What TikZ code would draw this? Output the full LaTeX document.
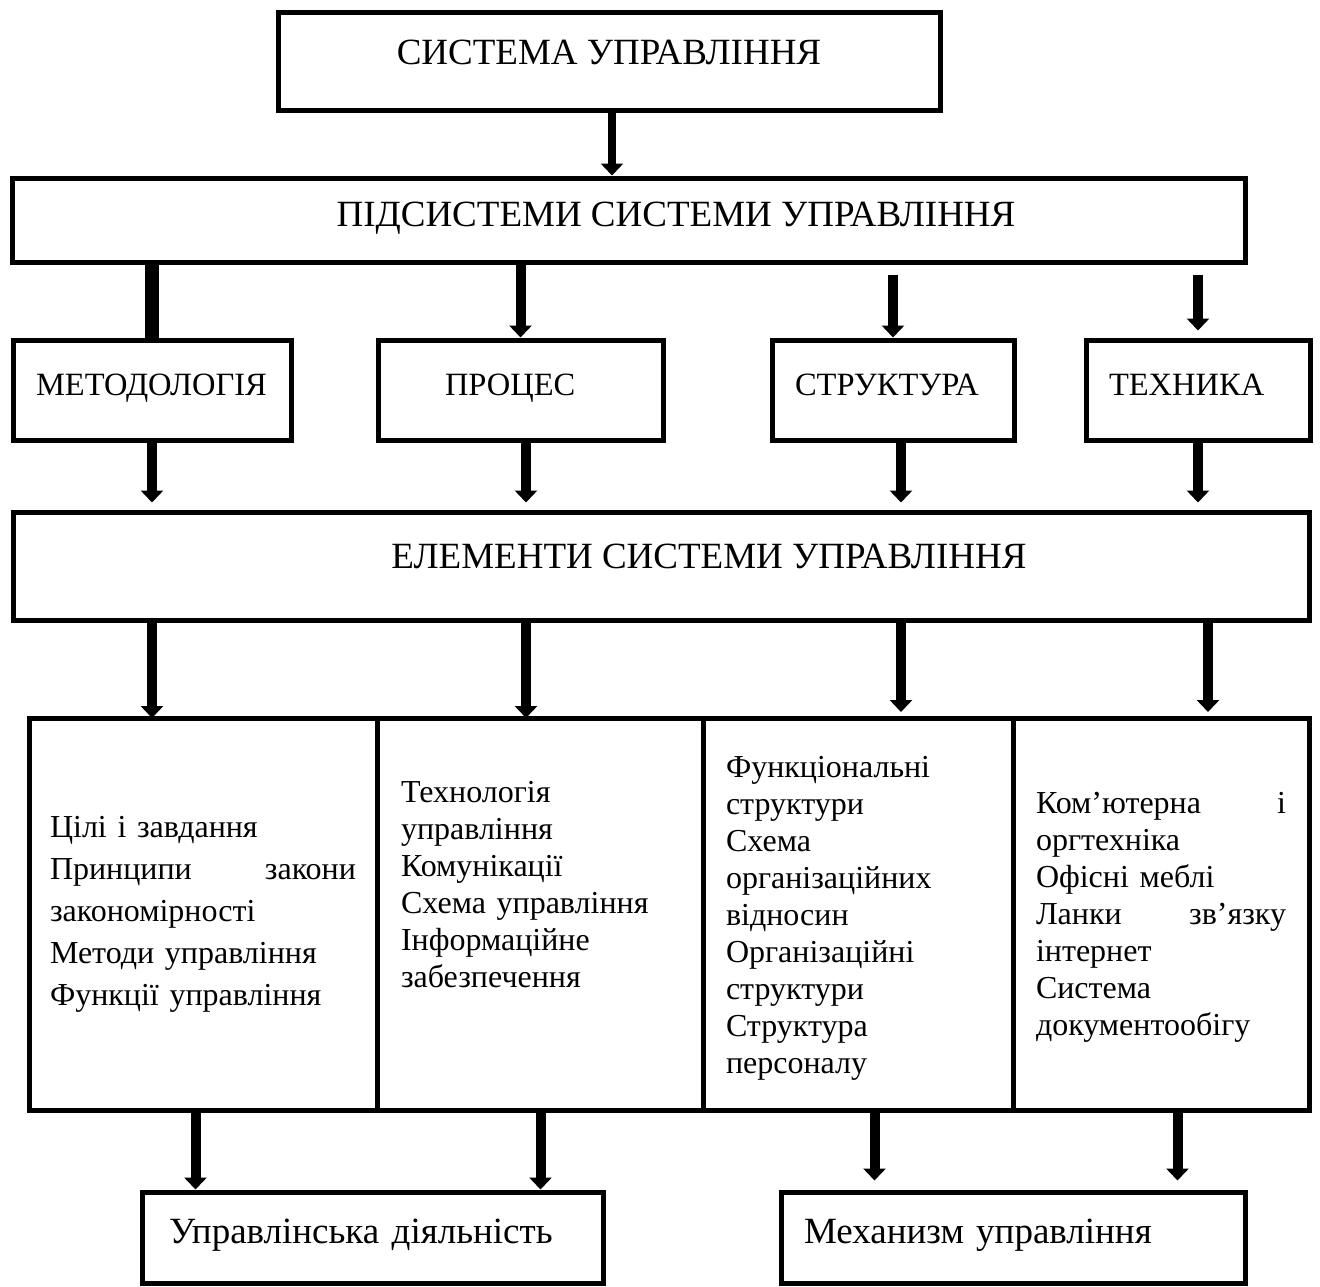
\documentclass[tikz,border=0pt]{standalone}
\usepackage{fontspec}
\setmainfont{Liberation Serif}
\usetikzlibrary{arrows.meta,positioning}

\begin{document}
\begin{tikzpicture}[
    x=1pt, y=-1pt,
    box/.style={rectangle, draw, line width=5pt, inner sep=0pt, font=\fontsize{37}{44}\selectfont, text height=24.5pt},
    headbox/.style={rectangle, draw, line width=5pt, inner xsep=23pt, inner ysep=0pt, align=left, minimum height=100pt, font=\fontsize{32.5}{38}\selectfont, text height=21.5pt, text depth=10pt},
    endbox/.style={headbox, minimum height=91pt, font=\fontsize{37}{44}\selectfont, text height=24.5pt, text depth=12pt},
    cell/.style={rectangle, draw, line width=5pt, outer sep=0pt, minimum height=392pt},
    list/.style={align=left, inner sep=0pt, font=\fontsize{32}{37}\selectfont},
    arrow/.style={-{Triangle[length=12pt,width=22pt]}, line width=10pt},
    bar/.style={line width=14pt}
  ]
    \useasboundingbox (0,0) rectangle (1320,1286);

    \node[box, minimum width=662pt, minimum height=98pt, text depth=18pt] (top) at (609,61) {СИСТЕМА УПРАВЛІННЯ};
    \node[box, minimum width=1233pt, minimum height=84pt, text depth=11pt] (sub) at (628.5,220) {\hspace*{95pt}ПІДСИСТЕМИ СИСТЕМИ УПРАВЛІННЯ};

    \node[headbox, text width=232pt] (meth) at (152,390) {МЕТОДОЛОГІЯ};
    \node[headbox, text width=151pt, inner xsep=67pt] (proc) at (520.5,390) {ПРОЦЕС};
    \node[headbox, text width=196pt] (struc) at (893,390) {СТРУКТУРА};
    \node[headbox, text width=178pt] (tech) at (1198,390) {ТЕХНИКА};

    \node[box, minimum width=1296pt, minimum height=108pt, text depth=19pt] (elem) at (661,566) {\hspace*{96pt}ЕЛЕМЕНТИ СИСТЕМИ УПРАВЛІННЯ};

    % table of elements
    \node[cell, minimum width=348pt] (colA) at (203,914) {};
    \node[cell, minimum width=326pt, right=0pt of colA] (colB) {};
    \node[cell, minimum width=310pt, right=0pt of colB] (colC) {};
    \node[cell, minimum width=296pt, right=0pt of colC] (colD) {};

    \node[list, text width=306pt, font=\fontsize{32}{42}\selectfont] (listA) at (colA.center) {Цілі і завдання\\ Принципи \hfill закони\\ закономірності\\ Методи управління\\ Функції управління};
    \node[list, text width=278pt] (listB) at ([yshift=29.5pt]colB.center) {Технологія\\ управління\\ Комунікації\\ Схема управління\\ Інформаційне\\ забезпечення};
    \node[list, text width=264pt] (listC) at ([yshift=-4pt]colC.center) {Функціональні\\ структури\\ Схема\\ організаційних\\ відносин\\ Організаційні\\ структури\\ Структура\\ персоналу};
    \node[list, text width=250pt] (listD) at ([yshift=-3.5pt]colD.center) {Ком’ютерна \hfill і\\ оргтехніка\\ Офісні меблі\\ Ланки \hfill зв’язку\\ інтернет\\ Система\\ документообігу};

    \node[endbox, text width=407pt, inner xsep=27pt] (act) at (372.5,1237.5) {Управлінська діяльність};
    \node[endbox, text width=418pt] (mech) at (1013,1237.5) {Механизм управління};

    % arrows
    \draw[arrow, line width=8pt] ([xshift=3pt]top.south) -- ([xshift=3pt]top.south |- sub.north);

    \draw[bar] (meth.north |- sub.south) -- (meth.north);
    \draw[arrow] (proc.north |- sub.south) -- (proc.north);
    \draw[arrow] ([yshift=-10pt]struc.north |- sub.south) -- (struc.north);
    \draw[arrow] ([yshift=-10pt]tech.north |- sub.south) -- ([yshift=7pt]tech.north);

    \draw[arrow] (meth.south) -- ([yshift=7pt]meth.south |- elem.north);
    \draw[arrow] ([xshift=5.5pt]proc.south) -- ([xshift=5.5pt,yshift=7pt]proc.south |- elem.north);
    \draw[arrow] ([xshift=8pt]struc.south) -- ([xshift=8pt,yshift=7pt]struc.south |- elem.north);
    \draw[arrow] (tech.south) -- ([yshift=7pt]tech.south |- elem.north);

    \draw[arrow] (meth.south |- elem.south) -- (meth.south |- colA.north);
    \draw[arrow] ([xshift=5.5pt]proc.south |- elem.south) -- ([xshift=5.5pt]proc.south |- colB.north);
    \draw[arrow] ([xshift=8pt]struc.south |- elem.south) -- ([xshift=8pt,yshift=6pt]struc.south |- colC.north);
    \draw[arrow] ([xshift=10pt]tech.south |- elem.south) -- ([xshift=10pt,yshift=6pt]tech.south |- colD.north);

    \draw[arrow] ([xshift=56pt]act.north west |- colA.south) -- ([xshift=56pt]act.north west);
    \draw[arrow] ([xshift=-65pt]act.north east |- colB.south) -- ([xshift=-65pt]act.north east);
    \draw[arrow] ([xshift=96pt]mech.north west |- colC.south) -- ([xshift=96pt,yshift=9pt]mech.north west);
    \draw[arrow] ([xshift=-70pt]mech.north east |- colD.south) -- ([xshift=-70pt,yshift=9pt]mech.north east);

  \end{tikzpicture}
\end{document}
